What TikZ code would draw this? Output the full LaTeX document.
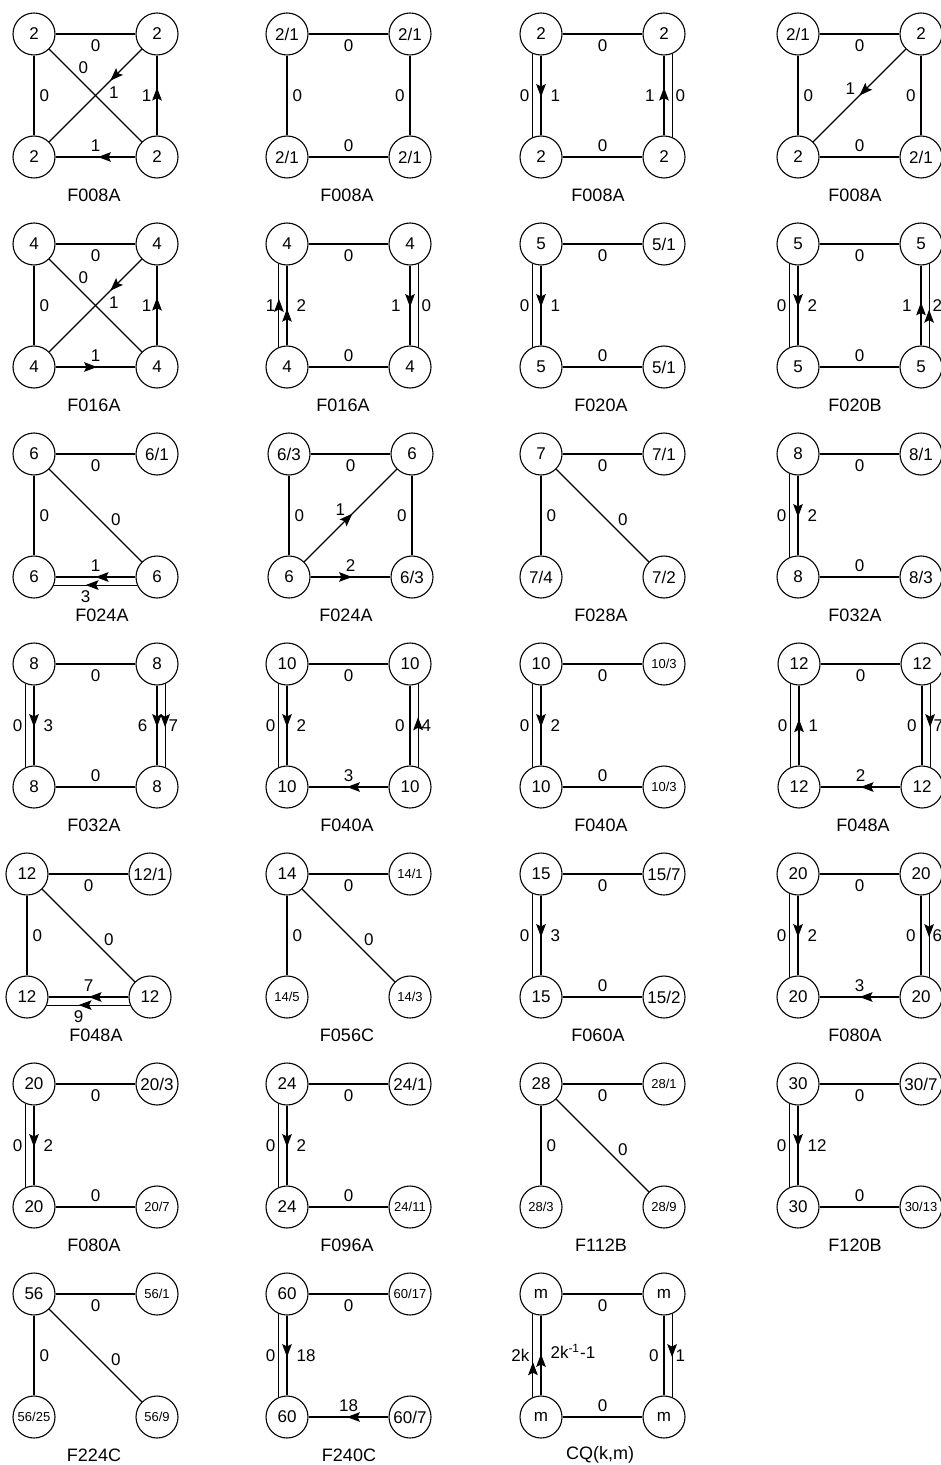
\documentclass[tikz,border=0pt]{standalone}
\usepackage{fontspec}
\setmainfont{Liberation Sans}
\usetikzlibrary{arrows.meta,decorations.markings}

\newcommand{\sml}[1]{{\fontsize{6.5}{7}\selectfont #1}}
\newcommand{\sqcell}[9]{%
  \begin{scope}[shift={(#2,#3)}]
    \node[vtx] (#1tl) at (0,0) {#4};
    \node[vtx] (#1tr) at (123,0) {#5};
    \node[vtx] (#1bl) at (0,123) {#6};
    \node[vtx] (#1br) at (123,123) {#7};
    \node[captxt] (#1cap) at (#9,161) {#8};
  \end{scope}}

\begin{document}
\begin{tikzpicture}[x=0.5pt,y=-0.5pt,line width=0.55pt,
    vtx/.style={draw,circle,minimum size=21pt,inner sep=0pt,font=\fontsize{8.5}{10}\selectfont},
    captxt/.style={inner sep=0pt,font=\fontsize{9}{11}\selectfont},
    lbl/.style={inner sep=2.5pt,font=\fontsize{8.5}{10}\selectfont},
    olbl/.style={lbl,inner sep=1.5pt},
    dlbl/.style={lbl,inner sep=1pt},
    arr/.style={postaction={decorate},decoration={markings,
        mark=at position #1 with {\arrow{Stealth[length=6.5pt,width=4.8pt,inset=1.2pt]}}}},
    arr/.default=0.53]
  \useasboundingbox (0,0) rectangle (941,1465);
  \clip (0,0) rectangle (941,1465);

  \sqcell{p1}{34}{34}{2}{2}{2}{2}{F008A}{60}
  \draw (p1tl) -- node[lbl,below]{0} (p1tr);
  \draw (p1tl) -- node[lbl,right]{0} (p1bl);
  \draw (p1tl) -- node[dlbl,pos=0.29,above right]{0} (p1br);
  \draw[arr=0.34] (p1tr) -- node[dlbl,pos=0.38,below right]{1} (p1bl);
  \draw[arr=0.6] (p1br) -- node[lbl,left]{1} (p1tr);
  \draw[arr=0.47] (p1br) -- node[lbl,above]{1} (p1bl);

  \sqcell{p2}{287}{34}{2/1}{2/1}{2/1}{2/1}{F008A}{60}
  \draw (p2tl) -- node[lbl,below]{0} (p2tr);
  \draw (p2bl) -- node[lbl,above]{0} (p2br);
  \draw (p2tl) -- node[lbl,right]{0} (p2bl);
  \draw (p2tr) -- node[lbl,left]{0} (p2br);

  \sqcell{p3}{541}{34}{2}{2}{2}{2}{F008A}{57}
  \draw (p3tl) -- node[lbl,below]{0} (p3tr);
  \draw (p3bl) -- node[lbl,above]{0} (p3br);
  \draw[arr=0.52] (p3tl) -- node[lbl,right=2pt]{1} (p3bl);
  \draw (p3tl.-112) -- node[olbl,left]{0} (p3bl.112);
  \draw[arr=0.6] (p3br) -- node[lbl,left=2pt]{1} (p3tr);
  \draw (p3tr.-68) -- node[olbl,right]{0} (p3br.68);

  \sqcell{p4}{798}{34}{2/1}{2}{2}{2/1}{F008A}{57}
  \draw (p4tl) -- node[lbl,below]{0} (p4tr);
  \draw (p4bl) -- node[lbl,above]{0} (p4br);
  \draw (p4tl) -- node[lbl,right]{0} (p4bl);
  \draw (p4tr) -- node[lbl,left]{0} (p4br);
  \draw[arr=0.5] (p4tr) -- node[dlbl,pos=0.52,above left]{1} (p4bl);

  \sqcell{p5}{34}{244}{4}{4}{4}{4}{F016A}{60}
  \draw (p5tl) -- node[lbl,below]{0} (p5tr);
  \draw (p5tl) -- node[lbl,right]{0} (p5bl);
  \draw (p5tl) -- node[dlbl,pos=0.29,above right]{0} (p5br);
  \draw[arr=0.34] (p5tr) -- node[dlbl,pos=0.38,below right]{1} (p5bl);
  \draw[arr=0.6] (p5br) -- node[lbl,left]{1} (p5tr);
  \draw[arr=0.52] (p5bl) -- node[lbl,above]{1} (p5br);

  \sqcell{p6}{287}{244}{4}{4}{4}{4}{F016A}{56}
  \draw (p6tl) -- node[lbl,below]{0} (p6tr);
  \draw (p6bl) -- node[lbl,above]{0} (p6br);
  \draw[arr=0.46] (p6bl) -- node[lbl,right=2pt]{2} (p6tl);
  \draw[arr=0.58] (p6bl.112) -- node[olbl,left]{1} (p6tl.-112);
  \draw[arr=0.52] (p6tr) -- node[lbl,left=2pt]{1} (p6br);
  \draw (p6tr.-68) -- node[olbl,right]{0} (p6br.68);

  \sqcell{p7}{541}{244}{5}{5/1}{5}{5/1}{F020A}{60}
  \draw (p7tl) -- node[lbl,below]{0} (p7tr);
  \draw (p7bl) -- node[lbl,above]{0} (p7br);
  \draw[arr=0.52] (p7tl) -- node[lbl,right=2pt]{1} (p7bl);
  \draw (p7tl.-112) -- node[olbl,left]{0} (p7bl.112);

  \sqcell{p8}{798}{244}{5}{5}{5}{5}{F020B}{57}
  \draw (p8tl) -- node[lbl,below]{0} (p8tr);
  \draw (p8bl) -- node[lbl,above]{0} (p8br);
  \draw[arr=0.52] (p8tl) -- node[lbl,right=2pt]{2} (p8bl);
  \draw (p8tl.-112) -- node[olbl,left]{0} (p8bl.112);
  \draw[arr=0.54] (p8br) -- node[lbl,left=2pt]{1} (p8tr);
  \draw[arr=0.45] (p8br.68) -- node[olbl,right]{2} (p8tr.-68);

  \sqcell{p9}{34}{454}{6}{6/1}{6}{6}{F024A}{68}
  \draw (p9tl) -- node[lbl,below]{0} (p9tr);
  \draw (p9tl) -- node[lbl,right]{0} (p9bl);
  \draw (p9tl) -- node[dlbl,pos=0.64,above right]{0} (p9br);
  \draw[arr=0.5] (p9br) -- node[lbl,above]{1} (p9bl);
  \draw[arr=0.62] (p9br.202) -- node[lbl,pos=0.62,below]{3} (p9bl.-22);

  \sqcell{p10}{289}{454}{6/3}{6}{6}{6/3}{F024A}{57}
  \draw (p10tl) -- node[lbl,below]{0} (p10tr);
  \draw (p10tl) -- node[lbl,right]{0} (p10bl);
  \draw (p10tr) -- node[lbl,left]{0} (p10br);
  \draw[arr=0.52] (p10bl) -- node[dlbl,pos=0.47,above left]{1} (p10tr);
  \draw[arr=0.52] (p10bl) -- node[lbl,above]{2} (p10br);

  \sqcell{p11}{541}{454}{7}{7/1}{7/4}{7/2}{F028A}{60}
  \draw (p11tl) -- node[lbl,below]{0} (p11tr);
  \draw (p11tl) -- node[lbl,right]{0} (p11bl);
  \draw (p11tl) -- node[dlbl,pos=0.64,above right]{0} (p11br);

  \sqcell{p12}{798}{454}{8}{8/1}{8}{8/3}{F032A}{57}
  \draw (p12tl) -- node[lbl,below]{0} (p12tr);
  \draw (p12bl) -- node[lbl,above]{0} (p12br);
  \draw[arr=0.52] (p12tl) -- node[lbl,right=2pt]{2} (p12bl);
  \draw (p12tl.-112) -- node[olbl,left]{0} (p12bl.112);

  \sqcell{p13}{34}{664}{8}{8}{8}{8}{F032A}{60}
  \draw (p13tl) -- node[lbl,below]{0} (p13tr);
  \draw (p13bl) -- node[lbl,above]{0} (p13br);
  \draw[arr=0.52] (p13tl) -- node[lbl,right=2pt]{3} (p13bl);
  \draw (p13tl.-112) -- node[olbl,left]{0} (p13bl.112);
  \draw[arr=0.52] (p13tr) -- node[lbl,left=2pt]{6} (p13br);
  \draw[arr=0.52] (p13tr.-68) -- node[olbl,right]{7} (p13br.68);

  \sqcell{p14}{287}{664}{10}{10}{10}{10}{F040A}{60}
  \draw (p14tl) -- node[lbl,below]{0} (p14tr);
  \draw[arr=0.52] (p14tl) -- node[lbl,right=2pt]{2} (p14bl);
  \draw (p14tl.-112) -- node[olbl,left]{0} (p14bl.112);
  \draw (p14br) -- node[lbl,left]{0} (p14tr);
  \draw[arr=0.6] (p14br.68) -- node[olbl,right]{4} (p14tr.-68);
  \draw[arr=0.52] (p14br) -- node[lbl,above]{3} (p14bl);

  \sqcell{p15}{541}{664}{10}{\sml{10/3}}{10}{\sml{10/3}}{F040A}{60}
  \draw (p15tl) -- node[lbl,below]{0} (p15tr);
  \draw (p15bl) -- node[lbl,above]{0} (p15br);
  \draw[arr=0.52] (p15tl) -- node[lbl,right=2pt]{2} (p15bl);
  \draw (p15tl.-112) -- node[olbl,left]{0} (p15bl.112);

  \sqcell{p16}{799}{664}{12}{12}{12}{12}{F048A}{64}
  \draw (p16tl) -- node[lbl,below]{0} (p16tr);
  \draw[arr=0.58] (p16bl) -- node[lbl,right=2pt]{1} (p16tl);
  \draw (p16bl.112) -- node[olbl,left]{0} (p16tl.-112);
  \draw (p16tr) -- node[lbl,left]{0} (p16br);
  \draw[arr=0.52] (p16tr.-68) -- node[olbl,right]{7} (p16br.68);
  \draw[arr=0.5] (p16br) -- node[lbl,above]{2} (p16bl);

  \sqcell{p17}{27}{874}{12}{12/1}{12}{12}{F048A}{69}
  \draw (p17tl) -- node[lbl,below]{0} (p17tr);
  \draw (p17tl) -- node[lbl,right]{0} (p17bl);
  \draw (p17tl) -- node[dlbl,pos=0.64,above right]{0} (p17br);
  \draw[arr=0.5] (p17br) -- node[lbl,above]{7} (p17bl);
  \draw[arr=0.62] (p17br.202) -- node[lbl,pos=0.62,below]{9} (p17bl.-22);

  \sqcell{p18}{287}{874}{14}{\sml{14/1}}{\sml{14/5}}{\sml{14/3}}{F056C}{60}
  \draw (p18tl) -- node[lbl,below]{0} (p18tr);
  \draw (p18tl) -- node[lbl,right]{0} (p18bl);
  \draw (p18tl) -- node[dlbl,pos=0.64,above right]{0} (p18br);

  \sqcell{p19}{541}{874}{15}{15/7}{15}{15/2}{F060A}{57}
  \draw (p19tl) -- node[lbl,below]{0} (p19tr);
  \draw (p19bl) -- node[lbl,above]{0} (p19br);
  \draw[arr=0.52] (p19tl) -- node[lbl,right=2pt]{3} (p19bl);
  \draw (p19tl.-112) -- node[olbl,left]{0} (p19bl.112);

  \sqcell{p20}{798}{874}{20}{20}{20}{20}{F080A}{57}
  \draw (p20tl) -- node[lbl,below]{0} (p20tr);
  \draw[arr=0.52] (p20tl) -- node[lbl,right=2pt]{2} (p20bl);
  \draw (p20tl.-112) -- node[olbl,left]{0} (p20bl.112);
  \draw (p20tr) -- node[lbl,left]{0} (p20br);
  \draw[arr=0.52] (p20tr.-68) -- node[olbl,right]{6} (p20br.68);
  \draw[arr=0.5] (p20br) -- node[lbl,above]{3} (p20bl);

  \sqcell{p21}{34}{1084}{20}{20/3}{20}{\sml{20/7}}{F080A}{60}
  \draw (p21tl) -- node[lbl,below]{0} (p21tr);
  \draw (p21bl) -- node[lbl,above]{0} (p21br);
  \draw[arr=0.52] (p21tl) -- node[lbl,right=2pt]{2} (p21bl);
  \draw (p21tl.-112) -- node[olbl,left]{0} (p21bl.112);

  \sqcell{p22}{287}{1084}{24}{24/1}{24}{\sml{24/11}}{F096A}{60}
  \draw (p22tl) -- node[lbl,below]{0} (p22tr);
  \draw (p22bl) -- node[lbl,above]{0} (p22br);
  \draw[arr=0.52] (p22tl) -- node[lbl,right=2pt]{2} (p22bl);
  \draw (p22tl.-112) -- node[olbl,left]{0} (p22bl.112);

  \sqcell{p23}{541}{1084}{28}{\sml{28/1}}{\sml{28/3}}{\sml{28/9}}{F112B}{60}
  \draw (p23tl) -- node[lbl,below]{0} (p23tr);
  \draw (p23tl) -- node[lbl,right]{0} (p23bl);
  \draw (p23tl) -- node[dlbl,pos=0.64,above right]{0} (p23br);

  \sqcell{p24}{798}{1084}{30}{30/7}{30}{\sml{30/13}}{F120B}{57}
  \draw (p24tl) -- node[lbl,below]{0} (p24tr);
  \draw (p24bl) -- node[lbl,above]{0} (p24br);
  \draw[arr=0.52] (p24tl) -- node[lbl,right=2pt]{12} (p24bl);
  \draw (p24tl.-112) -- node[olbl,left]{0} (p24bl.112);

  \sqcell{p25}{34}{1294}{56}{\sml{56/1}}{\sml{56/25}}{\sml{56/9}}{F224C}{60}
  \draw (p25tl) -- node[lbl,below]{0} (p25tr);
  \draw (p25tl) -- node[lbl,right]{0} (p25bl);
  \draw (p25tl) -- node[dlbl,pos=0.64,above right]{0} (p25br);

  \sqcell{p26}{287}{1294}{60}{\sml{60/17}}{60}{60/7}{F240C}{62}
  \draw (p26tl) -- node[lbl,below]{0} (p26tr);
  \draw[arr=0.52] (p26tl) -- node[lbl,right=2pt]{18} (p26bl);
  \draw (p26tl.-112) -- node[olbl,left]{0} (p26bl.112);
  \draw[arr=0.52] (p26br) -- node[lbl,above]{18} (p26bl);

  \sqcell{p27}{541}{1294}{m}{m}{m}{m}{CQ(k,m)}{59}
  \draw (p27tl) -- node[lbl,below]{0} (p27tr);
  \draw (p27bl) -- node[lbl,above]{0} (p27br);
  \draw[arr=0.52] (p27bl) -- node[lbl,right=2pt,yshift=2pt]{2k\textsuperscript{-1}-1} (p27tl);
  \draw[arr=0.42] (p27bl.112) -- node[olbl,left]{2k} (p27tl.-112);
  \draw (p27tr) -- node[lbl,left]{0} (p27br);
  \draw[arr=0.52] (p27tr.-68) -- node[olbl,right]{1} (p27br.68);
\end{tikzpicture}
\end{document}
